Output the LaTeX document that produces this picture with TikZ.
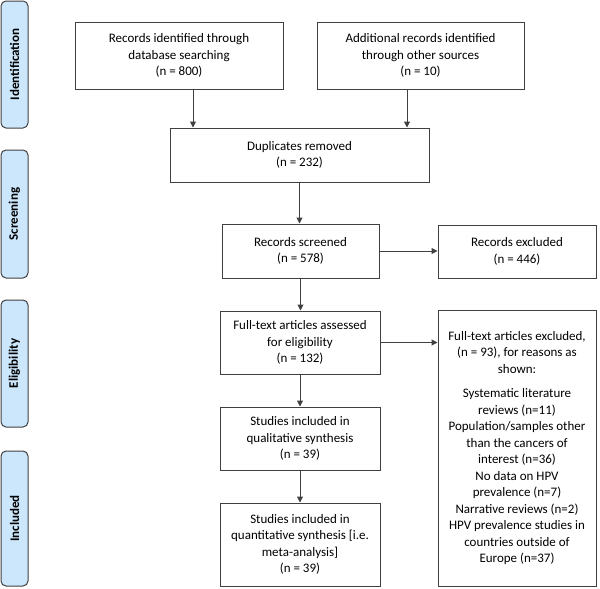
\documentclass[tikz,border=0pt]{standalone}
\usepackage{fontspec}
\setmainfont{Carlito}
\usetikzlibrary{arrows.meta}
\definecolor{phasefill}{RGB}{204,230,252}
\definecolor{boxline}{RGB}{64,64,64}

\begin{document}
\begin{tikzpicture}
[x=1pt,y=-1pt,
  boxdecorate/.style={shape=rectangle,draw=boxline,line width=1pt,align=center,inner sep=0pt,font=\fontsize{13}{16.5}\selectfont},
  phasedecorate/.style={shape=rectangle,rounded corners=5pt,draw=boxline,fill=phasefill,line width=1pt,rotate=90,inner sep=0pt,font=\fontsize{13}{16}\selectfont\bfseries},
  arrowdecorate/.style={-{Triangle[length=6pt,width=6pt]},draw=boxline,line width=1pt}]
\useasboundingbox (0,0) rectangle (600,589);
%% phase labels on the left
\foreach \nodename/\y/\size/\phase in {ident/64.5/127/Identification, screen/214/128/Screening, elig/363.5/127/Eligibility, incl/518.5/135/Included} {
  \node (\nodename) at (14.5,\y) [phasedecorate,minimum width=\size pt,minimum height=27pt] {\phase};
}
%% boxes
\node (recdb) at (179,55.5) [boxdecorate,minimum width=208pt,minimum height=67pt] {Records identified through\\database searching\\(n = 800)};
\node (recother) at (420.5,55.5) [boxdecorate,minimum width=207pt,minimum height=67pt] {Additional records identified\\through other sources\\(n = 10)};
\node (dup) at (299.5,155) [boxdecorate,minimum width=259pt,minimum height=54pt] {Duplicates removed\\(n = 232)};
\node (screened) at (300.5,251) [boxdecorate,minimum width=157pt,minimum height=54pt] {Records screened\\(n = 578)};
\node (excluded) at (517,251.5) [boxdecorate,minimum width=158pt,minimum height=53pt] {Records excluded\\(n = 446)};
\node (fulltext) at (300,342.5) [boxdecorate,minimum width=160pt,minimum height=63pt] {Full-text articles assessed\\for eligibility\\(n = 132)};
\node (ftexcluded) at (517,448) [boxdecorate,minimum width=158pt,minimum height=276pt] {Full-text articles excluded,\\(n = 93), for reasons as\\shown:\\[8pt]Systematic literature\\reviews (n=11)\\Population/samples other\\than the cancers of\\interest (n=36)\\No data on HPV\\prevalence (n=7)\\Narrative reviews (n=2)\\HPV prevalence studies in\\countries outside of\\Europe (n=37)};
\node (qual) at (300,438.5) [boxdecorate,minimum width=160pt,minimum height=63pt] {Studies included in\\qualitative synthesis\\(n = 39)};
\node (quant) at (300,544.5) [boxdecorate,minimum width=160pt,minimum height=83pt] {Studies included in\\quantitative synthesis [i.e.\\meta-analysis]\\(n = 39)};
%% arrows
\draw[arrowdecorate] ([xshift=14pt]recdb.south) -- ([xshift=14pt]recdb.south |- dup.north);
\draw[arrowdecorate] ([xshift=-13.5pt]recother.south) -- ([xshift=-13.5pt]recother.south |- dup.north);
\path
\foreach \startnode/\endnode in {dup/screened, screened/fulltext, fulltext/qual, qual/quant} {
  (\startnode.south) edge[arrowdecorate] (\startnode.south |- \endnode.north)
};
\draw[arrowdecorate] (screened.east) -- (screened.east -| excluded.west);
\draw[arrowdecorate] (fulltext.east) -- (fulltext.east -| ftexcluded.west);
\end{tikzpicture}
\end{document}
